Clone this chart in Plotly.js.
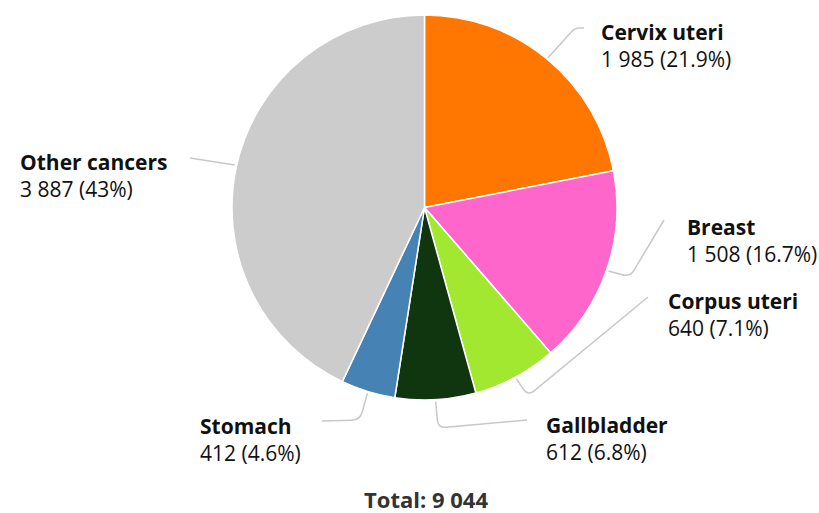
<!DOCTYPE html>
<html>
<head>
<meta charset="utf-8">
<script src="https://cdn.plot.ly/plotly-3.0.1.min.js"></script>
<style>html,body{margin:0;padding:0;background:#fff;}#chart{width:819px;height:513px;}</style>
</head>
<body>
<div id="chart"></div>
<script>
// ---- data ----
const labels = ['Cervix uteri', 'Breast', 'Corpus uteri', 'Gallbladder', 'Stomach', 'Other cancers'];
const values = [1985, 1508, 640, 612, 412, 3887];
const colors = ['#ff7700', '#ff66cc', '#a3e830', '#10360f', '#4682b4', '#cccccc'];
const totalLabel = 'Total';

// ---- layout config (pixels) ----
const W = 819, H = 513;
const cx = 424.5, cy = 207.5, R = 192.5;
// per-label: text left x, name line centre y, connector corner, connector end
const labelLayout = [
  {tx: 601, ty: 32,  corner: [575, 28],  end: [584, 28]},
  {tx: 687, ty: 227, corner: [630, 277], end: [664, 220]},
  {tx: 668, ty: 301, corner: [528, 396], end: [648, 297]},
  {tx: 546, ty: 425, corner: [438, 428], end: [527, 420]},
  {tx: 200, ty: 426, corner: [360, 420], end: [322, 421]},
  {tx: 20,  ty: 162, corner: null,       end: [190, 158]}
];
const lineGap = 27;
const labelFont = {family: 'Open Sans', size: 21, color: '#111111'};

const total = values.reduce((a, b) => a + b, 0);
const fmt = n => String(n).replace(/\B(?=(\d{3})+(?!\d))/g, ' ');
const pct = v => { let s = (v / total * 100).toFixed(1); if (s.endsWith('.0')) s = s.slice(0, -2); return s + '%'; };

const px = x => x / W;
const py = y => 1 - y / H;

const shapes = [];
const annotations = [];
let cum = 0;
values.forEach((v, i) => {
  const mid = (cum + v / 2) / total * 2 * Math.PI;
  cum += v;
  const rr = R + 2;
  const s = [cx + rr * Math.sin(mid), cy - rr * Math.cos(mid)];
  const L = labelLayout[i];
  let path;
  if (L.corner) {
    const c = L.corner, e = L.end;
    const d1 = Math.hypot(c[0] - s[0], c[1] - s[1]);
    const d2 = Math.hypot(e[0] - c[0], e[1] - c[1]);
    const rad = Math.min(8, d1 / 2, d2 / 2);
    const a = [c[0] + (s[0] - c[0]) * rad / d1, c[1] + (s[1] - c[1]) * rad / d1];
    const b = [c[0] + (e[0] - c[0]) * rad / d2, c[1] + (e[1] - c[1]) * rad / d2];
    path = `M ${px(s[0])},${py(s[1])} L ${px(a[0])},${py(a[1])} Q ${px(c[0])},${py(c[1])} ${px(b[0])},${py(b[1])} L ${px(e[0])},${py(e[1])}`;
  } else {
    path = `M ${px(s[0])},${py(s[1])} L ${px(L.end[0])},${py(L.end[1])}`;
  }
  shapes.push({type: 'path', xref: 'paper', yref: 'paper', path: path,
    line: {color: '#c8c8c8', width: 1.5}});
  annotations.push({xref: 'paper', yref: 'paper', x: px(L.tx - 2), y: py(L.ty),
    xanchor: 'left', yanchor: 'middle', showarrow: false, align: 'left',
    text: '<b>' + labels[i] + '</b>', font: labelFont});
  annotations.push({xref: 'paper', yref: 'paper', x: px(L.tx - 2), y: py(L.ty + lineGap),
    xanchor: 'left', yanchor: 'middle', showarrow: false, align: 'left',
    text: fmt(v) + ' (' + pct(v) + ')', font: labelFont});
});

const trace = {
  type: 'pie', labels: labels, values: values, sort: false,
  direction: 'clockwise', rotation: 0,
  marker: {colors: colors, line: {color: '#ffffff', width: 1.5}},
  textinfo: 'none', hoverinfo: 'none', showlegend: false,
  domain: {x: [(cx - R) / W, (cx + R) / W], y: [1 - (cy + R) / H, 1 - (cy - R) / H]}
};

Plotly.newPlot('chart', [trace], {
  width: W, height: H, margin: {l: 0, r: 0, t: 0, b: 0},
  paper_bgcolor: '#ffffff', plot_bgcolor: '#ffffff',
  font: {family: 'Open Sans'},
  title: {
    text: '<b>' + totalLabel + ': ' + fmt(total) + '</b>',
    xref: 'paper', yref: 'paper', x: px(426), y: py(500),
    xanchor: 'center', yanchor: 'middle',
    font: {family: 'Open Sans', size: 22, color: '#333333'}
  },
  shapes: shapes, annotations: annotations, showlegend: false
}, {staticPlot: true});
</script>
</body>
</html>
